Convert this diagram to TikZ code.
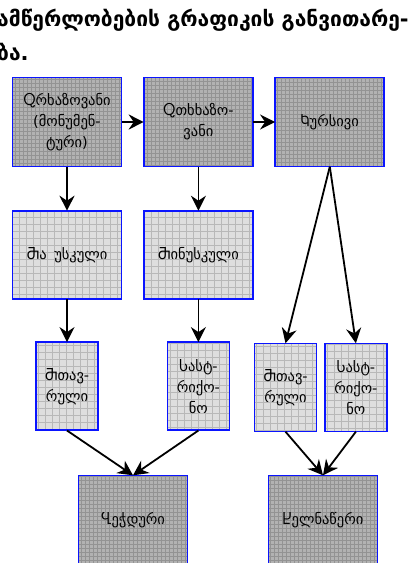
\documentclass[tikz,border=0pt]{standalone}
\usepackage{fontspec}
\usetikzlibrary{positioning, arrows.meta}
\newfontfamily\geofont[Script=Georgian]{DejaVu Sans}
\definecolor{frameblue}{HTML}{0A14FF}
\definecolor{darkfill}{HTML}{B2B2B2}
\definecolor{darkgrid}{HTML}{939393}
\definecolor{lightfill}{HTML}{DEDEDE}
\definecolor{lightgrid}{HTML}{B8B8B8}

\begin{document}
\begin{tikzpicture}[
            x=1pt, y=-1pt,
            box/.style={rectangle, align=center, inner sep=2pt,
                        postaction={draw=frameblue, line width=1.7pt},
                        font=\geofont\fontsize{14.5}{21}\selectfont},
            darkbox/.style={box, fill=darkfill, minimum width=109pt, minimum height=89pt,
                        path picture={\draw[darkgrid, line width=0.4pt, step=4pt]
                        (path picture bounding box.south west) grid (path picture bounding box.north east);}},
            lightbox/.style={box, fill=lightfill, minimum height=88pt,
                        path picture={\draw[lightgrid, line width=0.4pt, step=7pt]
                        (path picture bounding box.south west) grid (path picture bounding box.north east);}},
            wide/.style={lightbox, minimum width=109pt},
            narrow/.style={lightbox, minimum width=62pt},
            title/.style={anchor=base west, inner sep=0pt, font=\geofont\bfseries\fontsize{21}{24}\selectfont},
            arrow/.style={-{Stealth[length=15pt, width=15pt, inset=5pt]}, line width=1.8pt, color=black}
        ]
            \useasboundingbox (0,0) rectangle (418,563);
            \clip (0,0) rectangle (418,563);

            \node[title] (head1) at (-3,26) {ამწერლობების გრაფიკის განვითარე-};
            \node[title] (head2) at (-3,60) {ბა.};

            \node[darkbox] (orline) at (67,122) {Ⴍრხაზოვანი\\(მონუმენ-\\ტური)};
            \node[darkbox, right=22pt of orline] (otxline) {Ⴍთხხაზო-\\ვანი};
            \node[darkbox, right=22pt of otxline] (kursiv) {Ⴉურსივი};

            \node[wide, below=44pt of orline] (majus) {Ⴋა\phantom{ჟ}უსკული};
            \node[wide, below=44pt of otxline] (minus) {Ⴋინუსკული};

            \node[narrow, below=43pt of majus] (mtavA) {Ⴋთავ-\\რული};
            \node[narrow, below=43pt of minus] (sastA) {Ⴑასტ-\\რიქო-\\ნო};
            \node[narrow] (mtavB) at (285.5,387.5) {Ⴋთავ-\\რული};
            \node[narrow, right=8pt of mtavB] (sastB) {Ⴑასტ-\\რიქო-\\ნო};

            \node[darkbox] (print) at (133,520) {Ⴁეჭდური};
            \node[darkbox] (hand) at (323,520) {Ⴞელნაწერი};

            \draw[arrow] (orline) -- (otxline);
            \draw[arrow] (otxline) -- (kursiv);
            \draw[arrow] (orline) -- (majus);
            \draw[arrow] (otxline) -- (minus);
            \draw[arrow] (majus) -- (mtavA);
            \draw[arrow] (minus) -- (sastA);
            \draw[arrow] (kursiv.south) -- (mtavB.north);
            \draw[arrow] (kursiv.south) -- (sastB.north);
            \draw[arrow] (mtavA.south) -- (print.north);
            \draw[arrow] (sastA.south) -- (print.north);
            \draw[arrow] (mtavB.south) -- (hand.north);
            \draw[arrow] (sastB.south) -- (hand.north);
        \end{tikzpicture}
\end{document}
